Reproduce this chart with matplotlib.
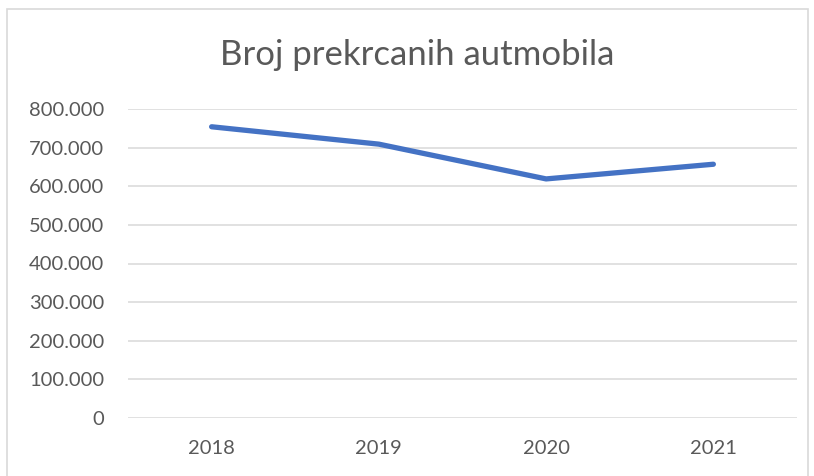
import matplotlib.pyplot as plt
from matplotlib.patches import Rectangle
from matplotlib.ticker import FuncFormatter

years = ['2018', '2019', '2020', '2021']
cars = [754000, 709000, 619000, 657000]
y_ticks = [0, 100000, 200000, 300000, 400000, 500000, 600000, 700000, 800000]

plt.rcParams['font.family'] = ['Lato', 'DejaVu Sans']
grey = '#595959'

fig = plt.figure(figsize=(8.14, 4.76), dpi=100)
ax = fig.add_axes([128 / 814, 1 - 418 / 476, (797 - 128) / 814, (418 - 109) / 476])

# chart border (Excel style, bottom cut off)
fig.patches.append(Rectangle((7 / 814, -0.05), (808 - 7) / 814, 1 - 9 / 476 + 0.05,
                             transform=fig.transFigure, fill=False, edgecolor='#D9D9D9', linewidth=1.2))

ax.plot(range(len(years)), cars, color='#4472C4', linewidth=3.8,
        solid_capstyle='round', solid_joinstyle='round', zorder=3)

ax.set_xlim(-0.5, len(years) - 0.5)
ax.set_ylim(0, 800000)
ax.set_yticks(y_ticks)
ax.yaxis.set_major_formatter(FuncFormatter(lambda v, p: f'{int(v):,}'.replace(',', '.')))
ax.set_xticks(range(len(years)))
ax.set_xticklabels(years)

ax.grid(axis='y', color='#D9D9D9', linewidth=1.1)
ax.set_axisbelow(True)
for s in ax.spines.values():
    s.set_visible(False)
ax.tick_params(axis='both', length=0, labelsize=14.5, colors=grey)
ax.tick_params(axis='y', pad=17)
ax.tick_params(axis='x', pad=16)

fig.text(417 / 814, 1 - 55 / 476, 'Broj prekrcanih autmobila', ha='center', va='center',
         fontsize=25, color=grey)

fig.savefig('out.png', dpi=100)
